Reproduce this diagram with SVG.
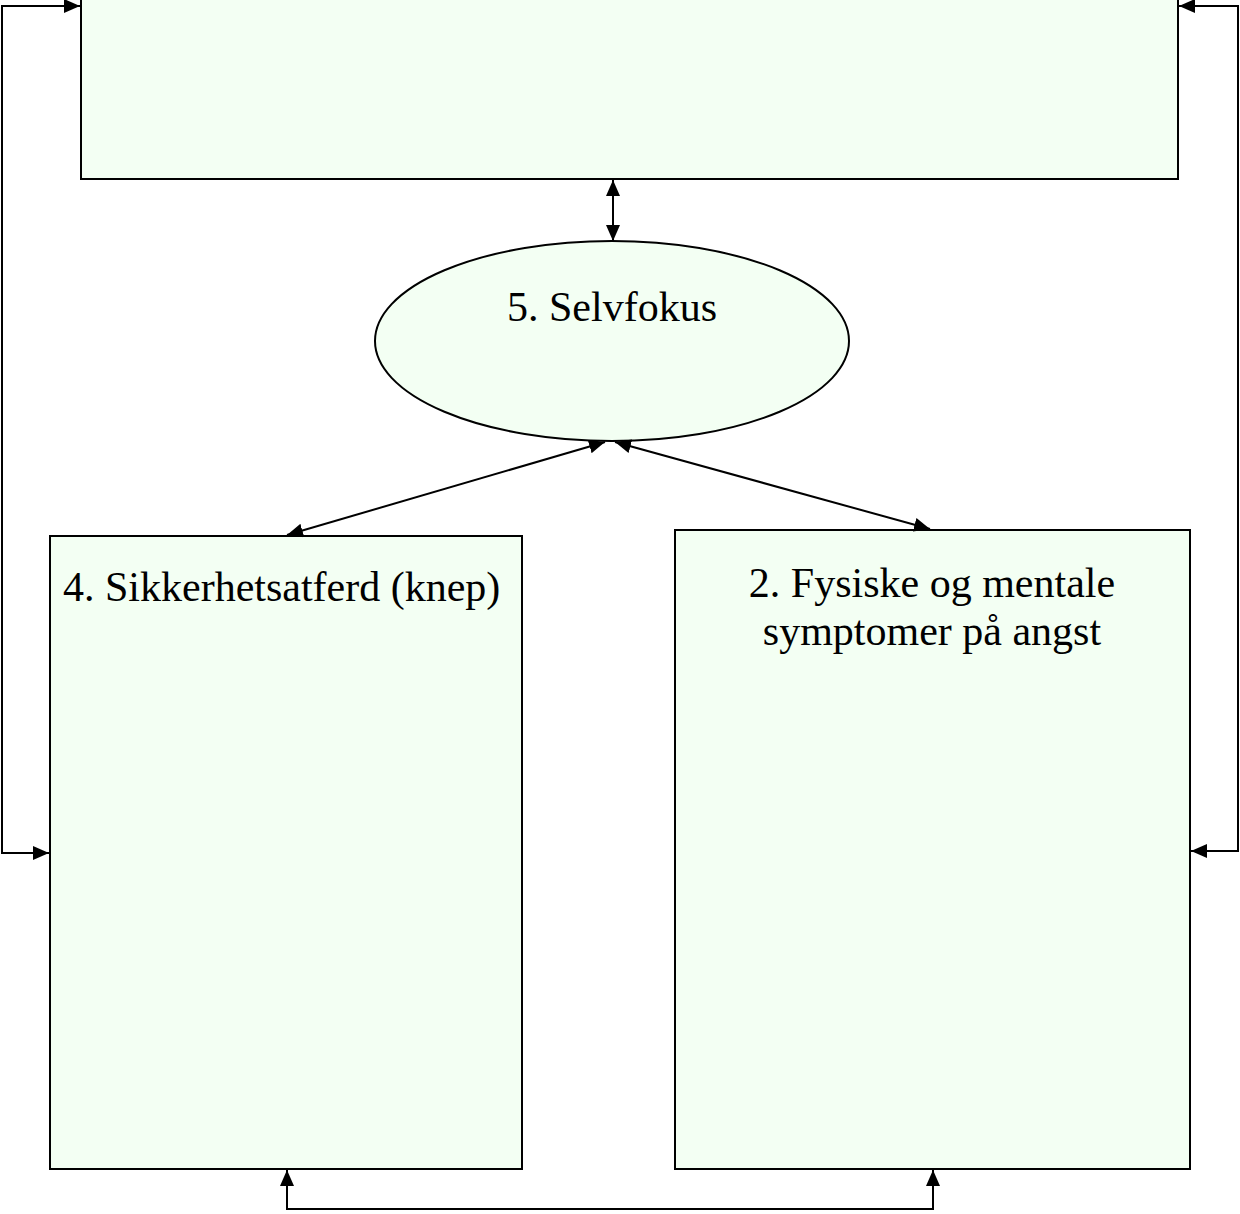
<svg xmlns="http://www.w3.org/2000/svg" width="1240" height="1214" viewBox="0 0 1240 1214">
<style>
.box{fill:#f3fff3;stroke:#000;stroke-width:2}
.ln{fill:none;stroke:#000;stroke-width:2}
.t{font-family:"Liberation Serif",serif;font-size:42px;fill:#000}
</style>
<defs>
<marker id="ah" viewBox="0 0 16 14" refX="16" refY="7" markerWidth="16" markerHeight="14" markerUnits="userSpaceOnUse" orient="auto-start-reverse">
<path d="M0,0 L16,7 L0,14 Z" fill="#000"/>
</marker>
</defs>
<rect width="1240" height="1214" fill="#fff"/>
<g id="node-top"><rect class="box" x="81" y="-4" width="1097" height="183"/></g>
<g id="node-selvfokus"><ellipse class="box" cx="612" cy="341" rx="237" ry="100"/><text class="t" x="612" y="321" text-anchor="middle">5. Selvfokus</text></g>
<g id="node-sikkerhet"><rect class="box" x="50" y="536" width="472" height="633"/><text class="t" x="63" y="601">4. Sikkerhetsatferd (knep)</text></g>
<g id="node-symptomer"><rect class="box" x="675" y="530" width="515" height="639"/><text class="t" x="932" y="597" text-anchor="middle">2. Fysiske og mentale</text><text class="t" x="932" y="645" text-anchor="middle">symptomer på angst</text></g>
<g id="connectors">
<line class="ln" x1="613" y1="180" x2="613" y2="241" marker-start="url(#ah)" marker-end="url(#ah)"/>
<line class="ln" x1="605" y1="442" x2="287" y2="535" marker-start="url(#ah)" marker-end="url(#ah)"/>
<line class="ln" x1="615" y1="442" x2="930" y2="529" marker-start="url(#ah)" marker-end="url(#ah)"/>
<polyline class="ln" points="49,853 2,853 2,6 80,6" marker-start="url(#ah)" marker-end="url(#ah)"/>
<polyline class="ln" points="1191,851 1238,851 1238,6 1179,6" marker-start="url(#ah)" marker-end="url(#ah)"/>
<polyline class="ln" points="287,1170 287,1209 933,1209 933,1170" marker-start="url(#ah)" marker-end="url(#ah)"/>
</g>
</svg>
